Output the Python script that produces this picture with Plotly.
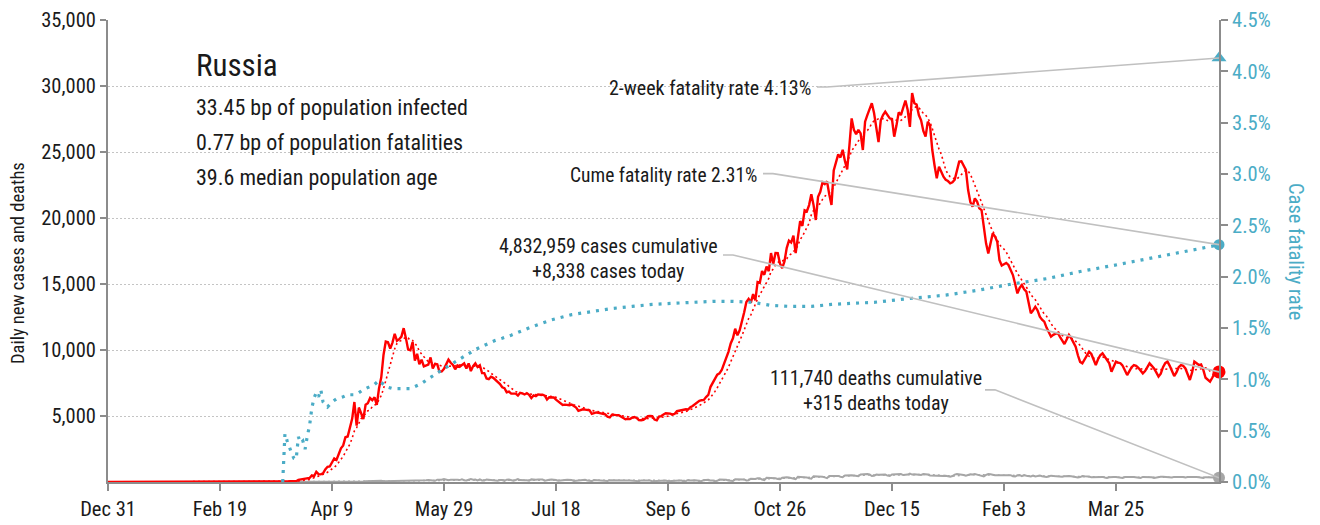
import pandas as pd
import plotly.graph_objects as go

# ---------------------------------------------------------------- styling
FONT = "Roboto Condensed, DejaVu Sans Condensed, sans-serif"
TEXT = "#1a1a1a"
RED = "#ff0000"
BLUE = "#4bacc6"
GREY = "#a6a6a6"
LEADER = "#c0c0c0"
AXIS = "#8c8c8c"

# ---------------------------------------------------------------- headline numbers
country = "Russia"
population_infected_bp = 33.45
population_fatalities_bp = 0.77
median_age = 39.6
cases_cumulative = 4832959
deaths_cumulative = 111740
cases_today = 8338
deaths_today = 315
two_week_fatality_rate = 4.13

start_date, end_date = "2019-12-31", "2021-05-10"

# ---------------------------------------------------------------- daily new cases
cases_2019_12 = [0]
cases_2020_01 = [0, 0, 0, 0, 0, 0, 0, 0, 0, 0, 0, 0, 0, 0, 0, 0, 0, 0, 0, 0,
                 0, 0, 0, 0, 0, 0, 0, 0, 0, 0, 2]
cases_2020_02 = [0, 0, 0, 0, 0, 0, 0, 0, 0, 0, 0, 0, 0, 0, 0, 0, 0, 0, 0, 0,
                 0, 0, 0, 0, 0, 0, 0, 0, 0]
cases_2020_03 = [0, 1, 0, 0, 0, 1, 6, 0, 0, 3, 3, 6, 17, 14, 4, 30, 21, 33, 52, 54,
                 53, 61, 71, 57, 163, 182, 196, 228, 270, 302, 501]
cases_2020_04 = [440, 771, 601, 582, 658, 954, 1154, 1175, 1459, 1786,
                 1667, 2186, 2558, 2774, 3388, 3448, 4070, 4785, 6060, 4268,
                 5642, 5236, 4774, 5849, 5966, 6361, 6198, 6411, 5841, 7099]
cases_2020_05 = [7933, 9623, 10633, 10581, 10102, 10559, 11231, 10699, 10817, 11012,
                 11656, 10899, 10028, 9974, 10598, 9200, 9709, 8926, 9263, 8764,
                 8849, 8894, 9434, 8599, 8946, 8915, 8338, 8371, 8572, 8952, 9268]
cases_2020_06 = [9035, 8863, 8536, 8831, 8726, 8855, 8984, 8595, 8985, 8404,
                 8779, 8987, 8706, 8835, 8246, 8248, 7843, 7790, 7972, 7889,
                 7728, 7600, 7425, 7176, 7113, 6800, 6852, 6693, 6719, 6693]
cases_2020_07 = [6556, 6760, 6718, 6632, 6736, 6611, 6368, 6562, 6509, 6635,
                 6611, 6615, 6537, 6248, 6422, 6428, 6406, 6234, 6109, 5940,
                 5842, 5862, 5848, 5811, 5871, 5765, 5635, 5395, 5475, 5509, 5482]
cases_2020_08 = [5462, 5427, 5159, 5204, 5267, 5241, 5212, 5189, 5118, 4945,
                 4892, 5102, 5057, 5065, 5061, 4969, 4839, 4748, 4790, 4767,
                 4870, 4921, 4852, 4696, 4676, 4711, 4829, 4979, 4995, 4980, 4729]
cases_2020_09 = [4670, 4952, 4995, 5110, 5205, 5195, 5185, 5099, 5172, 5363,
                 5405, 5406, 5449, 5509, 5488, 5670, 5762, 5905, 6065, 6148,
                 6196, 6215, 6431, 6595, 7212, 7523, 7867, 8135, 8232, 8481]
cases_2020_10 = [8945, 9412, 9859, 10499, 10888, 11615, 11115, 11493, 12126, 12846,
                 13634, 13868, 13592, 14231, 13754, 15150, 15099, 15982, 15700, 16319,
                 15971, 17340, 16521, 17347, 17338, 16550, 16202, 16710, 17717, 18283, 18140]
cases_2020_11 = [18665, 17335, 18648, 19768, 19404, 20582, 20498, 20977, 21798, 20977,
                 19851, 21608, 21983, 22702, 22572, 22778, 21798, 20985, 23610, 24318,
                 24822, 24581, 25173, 24326, 23675, 25487, 27543, 26683, 26338, 26683]
cases_2020_12 = [26402, 25150, 27300, 27800, 28200, 28700, 27950, 26900, 25750, 27400,
                 27800, 28050, 27800, 27550, 27500, 26160, 27000, 28000, 27800, 28400,
                 28900, 28200, 26900, 29470, 28700, 28600, 27800, 27400, 26600, 26160, 27300]
cases_2021_01 = [27000, 25150, 24000, 23000, 23890, 23500, 23130, 22900, 22800, 22630,
                 22700, 22900, 23600, 24270, 24300, 24000, 23640, 22120, 21200, 20860,
                 21490, 21240, 20730, 20600, 19200, 18080, 17320, 18200, 18840, 18590, 18200]
cases_2021_02 = [16800, 16400, 16500, 16600, 16440, 16100, 15680, 15000, 14290, 14700,
                 14920, 14600, 14420, 13600, 12780, 13000, 13280, 13000, 12520, 12300,
                 12150, 11700, 11390, 11010, 11150, 11250, 11310, 11000]
cases_2021_03 = [10700, 10450, 10800, 11140, 10900, 10600, 10250, 9600, 9100, 8990,
                 9300, 9600, 9870, 9700, 9200, 8860, 9300, 9600, 9750, 9500,
                 9200, 8990, 8360, 8700, 9120, 9050, 9000, 8800, 8400, 8100, 8400]
cases_2021_04 = [8700, 8860, 8800, 8650, 8400, 8230, 8400, 8700, 8990, 8800,
                 8600, 8300, 7980, 8200, 8700, 9000, 9120, 8800, 8400, 8030,
                 8300, 8700, 8860, 8800, 8600, 8100, 7730, 8300, 9120, 9000]
cases_2021_05 = [8860, 8900, 8500, 7900, 7730, 7600, 7900, 8230, 8100, 8338]

# ---------------------------------------------------------------- daily new deaths
deaths_2019_12 = [0]
deaths_2020_01 = [0, 0, 0, 0, 0, 0, 0, 0, 0, 0, 0, 0, 0, 0, 0, 0, 0, 0, 0, 0,
                  0, 0, 0, 0, 0, 0, 0, 0, 0, 0, 0]
deaths_2020_02 = [0, 0, 0, 0, 0, 0, 0, 0, 0, 0, 0, 0, 0, 0, 0, 0, 0, 0, 0, 0,
                  0, 0, 0, 0, 0, 0, 0, 0, 0]
deaths_2020_03 = [0, 0, 0, 0, 0, 0, 0, 0, 0, 0, 0, 0, 0, 0, 0, 0, 0, 0, 1, 0,
                  0, 0, 0, 0, 2, 0, 1, 0, 0, 4, 9]
deaths_2020_04 = [7, 6, 4, 9, 2, 2, 11, 5, 13, 12, 18, 22, 12, 24, 28, 27, 33, 42, 48, 43,
                  51, 57, 42, 60, 66, 56, 57, 93, 107, 101]
deaths_2020_05 = [96, 57, 58, 76, 95, 88, 98, 115, 88, 70, 94, 107, 96, 93, 113, 119, 94, 91,
                  115, 127, 135, 150, 139, 153, 92, 174, 161, 169, 232, 181, 138]
deaths_2020_06 = [162, 182, 178, 169, 144, 197, 134, 112, 171, 216, 174, 181, 119, 194, 113,
                  109, 193, 182, 181, 161, 109, 95, 153, 154, 92, 176, 188, 147, 104, 154]
deaths_2020_07 = [216, 147, 168, 135, 134, 104, 198, 173, 174, 188, 168, 188, 102, 165, 177,
                  183, 175, 150, 95, 129, 165, 147, 161, 164, 146, 85, 96, 147, 169, 150, 161]
deaths_2020_08 = [116, 70, 70, 144, 129, 119, 114, 70, 70, 77, 130, 129, 114, 118, 79, 68,
                  67, 86, 115, 121, 106, 98, 55, 62, 121, 123, 117, 119, 107, 56, 66]
deaths_2020_09 = [123, 122, 121, 110, 116, 52, 70, 119, 135, 127, 121, 112, 52, 74, 150,
                  113, 144, 124, 121, 55, 68, 160, 150, 169, 108, 117, 61, 90, 180, 177]
deaths_2020_10 = [186, 169, 117, 115, 77, 201, 202, 191, 174, 197, 115, 124, 244, 239, 232,
                  286, 279, 184, 141, 317, 320, 286, 278, 283, 229, 219, 320, 366, 355, 334, 302]
deaths_2020_11 = [251, 214, 389, 378, 355, 386, 349, 286, 256, 442, 432, 439, 411, 395, 350,
                  294, 456, 463, 473, 467, 461, 401, 361, 491, 507, 524, 510, 496, 491, 442]
deaths_2020_12 = [569, 589, 554, 613, 569, 455, 470, 561, 544, 555, 524, 560, 481, 451, 573,
                  580, 594, 600, 599, 524, 519, 561, 635, 562, 595, 557, 555, 536, 596, 577, 570]
deaths_2021_01 = [492, 479, 483, 482, 482, 484, 447, 465, 424, 401, 450, 559, 597, 590, 588,
                  533, 470, 522, 585, 571, 608, 561, 497, 452, 425, 536, 597, 580, 533, 513, 512]
deaths_2021_02 = [513, 499, 534, 514, 497, 520, 432, 411, 508, 523, 450, 525, 470, 437,
                  419, 488, 424, 456, 493, 433, 405, 378, 413, 479, 455, 442, 412, 380]
deaths_2021_03 = [407, 431, 459, 451, 442, 418, 354, 345, 374, 446, 429, 424, 413, 353, 353,
                  407, 398, 397, 386, 343, 309, 355, 386, 383, 387, 369, 322, 305, 377, 394, 379]
deaths_2021_04 = [383, 377, 362, 348, 313, 384, 381, 378, 374, 364, 309, 346, 363, 392, 396,
                  391, 366, 325, 350, 387, 399, 376, 378, 376, 334, 370, 385, 388, 382, 382]
deaths_2021_05 = [357, 328, 303, 366, 371, 377, 359, 342, 328, 315]

# ---------------------------------------------------------------- cumulative case fatality rate (%)
cfr_dates = [
    "2020-03-18", "2020-03-19", "2020-03-20", "2020-03-21", "2020-03-22", "2020-03-23",
    "2020-03-24", "2020-03-25", "2020-03-26", "2020-03-27", "2020-03-28", "2020-03-29",
    "2020-03-30", "2020-03-31", "2020-04-01", "2020-04-02", "2020-04-03", "2020-04-04",
    "2020-04-05", "2020-04-06", "2020-04-07", "2020-04-09", "2020-04-11", "2020-04-14",
    "2020-04-16", "2020-04-19", "2020-04-21", "2020-04-23", "2020-04-25", "2020-04-28",
    "2020-04-30", "2020-05-03", "2020-05-06", "2020-05-09", "2020-05-12", "2020-05-14",
    "2020-05-16", "2020-05-19", "2020-05-21", "2020-05-23", "2020-05-26", "2020-05-28",
    "2020-05-31", "2020-06-03", "2020-06-06", "2020-06-09", "2020-06-12", "2020-06-15",
    "2020-06-18", "2020-06-21", "2020-06-24", "2020-06-28", "2020-07-07", "2020-07-16",
    "2020-07-25", "2020-08-03", "2020-08-12", "2020-08-21", "2020-08-30", "2020-09-08",
    "2020-09-17", "2020-09-26", "2020-10-05", "2020-10-14", "2020-10-22", "2020-10-31",
    "2020-11-09", "2020-11-18", "2020-11-27", "2020-12-07", "2020-12-24", "2021-01-08",
    "2021-01-23", "2021-02-07", "2021-02-22", "2021-03-09", "2021-03-24", "2021-04-05",
    "2021-04-23", "2021-05-10",
]
cfr_values = [
    0.00, 0.47, 0.40, 0.33, 0.28, 0.23,
    0.22, 0.44, 0.38, 0.40, 0.32, 0.45,
    0.55, 0.72, 0.82, 0.87, 0.83, 0.90,
    0.78, 0.75, 0.73, 0.78, 0.81, 0.83,
    0.85, 0.85, 0.87, 0.90, 0.92, 0.95,
    0.99, 0.93, 0.91, 0.91, 0.91, 0.91,
    0.93, 0.96, 0.99, 1.02, 1.06, 1.09,
    1.13, 1.17, 1.21, 1.25, 1.29, 1.32,
    1.35, 1.38, 1.40, 1.43, 1.51, 1.58,
    1.63, 1.66, 1.69, 1.71, 1.73, 1.74,
    1.75, 1.76, 1.76, 1.75, 1.72, 1.71,
    1.71, 1.73, 1.74, 1.75, 1.79, 1.82,
    1.87, 1.93, 1.98, 2.05, 2.11, 2.16,
    2.24, 2.31,
]

# ---------------------------------------------------------------- assemble series
daily_cases = (cases_2019_12 + cases_2020_01 + cases_2020_02 + cases_2020_03 + cases_2020_04
               + cases_2020_05 + cases_2020_06 + cases_2020_07 + cases_2020_08 + cases_2020_09
               + cases_2020_10 + cases_2020_11 + cases_2020_12 + cases_2021_01 + cases_2021_02
               + cases_2021_03 + cases_2021_04 + cases_2021_05)
daily_deaths = (deaths_2019_12 + deaths_2020_01 + deaths_2020_02 + deaths_2020_03
                + deaths_2020_04 + deaths_2020_05 + deaths_2020_06 + deaths_2020_07
                + deaths_2020_08 + deaths_2020_09 + deaths_2020_10 + deaths_2020_11
                + deaths_2020_12 + deaths_2021_01 + deaths_2021_02 + deaths_2021_03
                + deaths_2021_04 + deaths_2021_05)
dates = pd.date_range(start_date, end_date, freq="D")
assert len(daily_cases) == len(dates), (len(daily_cases), len(dates))
assert len(daily_deaths) == len(dates), (len(daily_deaths), len(dates))
assert len(cfr_dates) == len(cfr_values)

cases_avg = pd.Series(daily_cases).rolling(7, min_periods=1).mean()
deaths_avg = pd.Series(daily_deaths).rolling(7, min_periods=1).mean()
cume_fatality_rate = deaths_cumulative / cases_cumulative * 100
last_day = dates[-1]

# ---------------------------------------------------------------- figure geometry
W, H = 1320, 525
MARGIN = dict(l=108, r=101, t=20, b=43)
PLOT_W = W - MARGIN["l"] - MARGIN["r"]
PLOT_H = H - MARGIN["t"] - MARGIN["b"]


def paper_x(px):
    return (px - MARGIN["l"]) / PLOT_W


def paper_y(py):
    return (H - MARGIN["b"] - py) / PLOT_H


fig = go.Figure()

# deaths (tiny, along the floor)
fig.add_trace(go.Scatter(x=dates, y=deaths_avg, mode="lines",
                         line=dict(color=GREY, width=1.5, dash="2px,3px"), hoverinfo="skip"))
fig.add_trace(go.Scatter(x=dates, y=daily_deaths, mode="lines",
                         line=dict(color=GREY, width=2), name="Daily deaths"))
# cases
fig.add_trace(go.Scatter(x=dates, y=cases_avg, mode="lines",
                         line=dict(color=RED, width=1.6, dash="2px,3px"), hoverinfo="skip"))
fig.add_trace(go.Scatter(x=dates, y=daily_cases, mode="lines",
                         line=dict(color=RED, width=2.4), name="Daily cases"))
# case fatality rate on the right axis
fig.add_trace(go.Scatter(x=pd.to_datetime(cfr_dates), y=cfr_values, mode="lines", yaxis="y2",
                         line=dict(color=BLUE, width=3.2, dash="3px,6px"), name="Case fatality rate"))

# end-of-series markers
fig.add_trace(go.Scatter(x=[last_day], y=[cases_today], mode="markers", cliponaxis=False,
                         marker=dict(color=RED, size=13)))
fig.add_trace(go.Scatter(x=[last_day], y=[deaths_today], mode="markers", cliponaxis=False,
                         marker=dict(color=GREY, size=12)))
fig.add_trace(go.Scatter(x=[last_day], y=[cume_fatality_rate], mode="markers", yaxis="y2",
                         cliponaxis=False, marker=dict(color=BLUE, size=11)))
fig.add_trace(go.Scatter(x=[last_day], y=[two_week_fatality_rate], mode="markers", yaxis="y2",
                         cliponaxis=False, marker=dict(color=BLUE, size=13, symbol="triangle-up")))


# leader lines: anchored on each end marker, start offset given in pixels
def leader(yref, yval, dx0, dx1, dy):
    fig.add_shape(type="path", xref="x", yref=yref,
                  xsizemode="pixel", ysizemode="pixel",
                  xanchor=last_day, yanchor=yval,
                  path=f"M{dx0},{dy} L{dx1},{dy} L0,0",
                  line=dict(color=LEADER, width=1.6), layer="above")


leader("y2", two_week_fatality_rate, -402, -392, -29)
leader("y2", cume_fatality_rate, -456, -446, 71)
leader("y", cases_today, -496, -486, 117)
leader("y", deaths_today, -234, -224, 88)


def note(text, px, py, size, anchor="left", color=TEXT, angle=0):
    fig.add_annotation(text=text, xref="paper", yref="paper", x=paper_x(px), y=paper_y(py),
                       xanchor=anchor, yanchor="middle", showarrow=False, textangle=angle,
                       font=dict(family=FONT, size=size, color=color))


note(country, 194, 66, 31)
note(f"{population_infected_bp:.2f} bp of population infected", 194, 107, 22)
note(f"{population_fatalities_bp:.2f} bp of population fatalities", 194, 142, 22)
note(f"{median_age:.1f} median population age", 194, 177, 22)

note(f"2-week fatality rate {two_week_fatality_rate:.2f}%", 813, 88, 20, anchor="right")
note(f"Cume fatality rate {cume_fatality_rate:.2f}%", 759, 175, 19.5, anchor="right")
note(f"{cases_cumulative:,} cases cumulative", 608, 246, 20, anchor="center")
note(f"+{cases_today:,} cases today", 608, 271, 20, anchor="center")
note(f"{deaths_cumulative:,} deaths cumulative", 876, 378, 20, anchor="center")
note(f"+{deaths_today:,} deaths today", 876, 403, 20, anchor="center")

note("Daily new cases and deaths", 18, 263, 18.5, anchor="center", angle=-90)
note("Case fatality rate", 1296, 251, 20.5, anchor="center", color=BLUE, angle=90)

fig.update_layout(
    width=W, height=H, margin=MARGIN,
    paper_bgcolor="white", plot_bgcolor="white",
    showlegend=False,
    font=dict(family=FONT, size=20.5, color=TEXT),
    xaxis=dict(
        type="date", range=[dates[0], last_day], automargin=False,
        tick0=start_date, dtick=50 * 86400000, tickformat="%b %-d",
        ticks="outside", ticklen=7, tickwidth=1.5, tickcolor=AXIS,
        showline=True, linecolor=AXIS, linewidth=2,
        showgrid=False, zeroline=False,
        tickfont=dict(family=FONT, size=20.5, color=TEXT),
    ),
    yaxis=dict(
        range=[0, 35000], tickmode="array", automargin=False,
        tickvals=list(range(5000, 35001, 5000)), tickformat=",",
        ticks="outside", ticklen=6, tickwidth=1.5, tickcolor=AXIS,
        showline=True, linecolor=AXIS, linewidth=2,
        showgrid=True, gridcolor="#c4c4c4", gridwidth=1, griddash="2px,2px",
        zeroline=False,
        tickfont=dict(family=FONT, size=20.5, color=TEXT),
    ),
    yaxis2=dict(
        overlaying="y", side="right", range=[0, 4.5], dtick=0.5, automargin=False,
        tickformat=".1f", ticksuffix="%",
        ticks="outside", ticklen=7, tickwidth=1.5, tickcolor=AXIS,
        showline=True, linecolor=AXIS, linewidth=2,
        showgrid=False, zeroline=False,
        tickfont=dict(family=FONT, size=20.5, color=BLUE),
    ),
)

fig.write_html("out.html")
